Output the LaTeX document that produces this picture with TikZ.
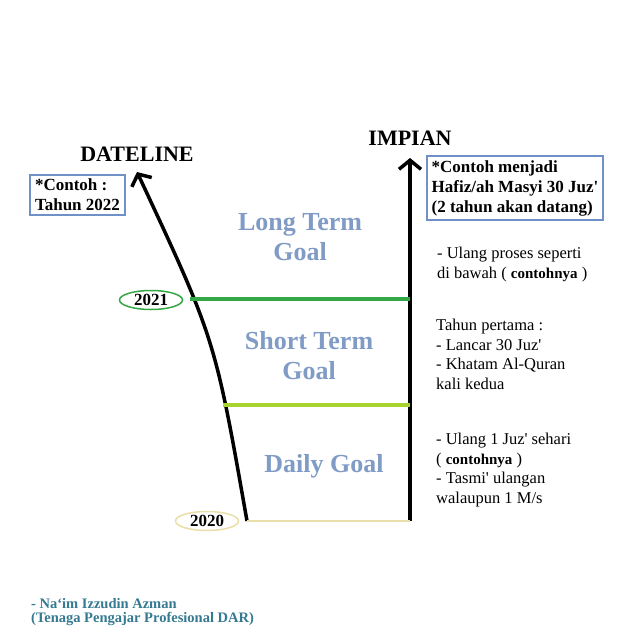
\documentclass[tikz,border=0pt]{standalone}
\usepackage{fontspec}
\setmainfont{Liberation Serif}
\usetikzlibrary{shapes.geometric,arrows.meta}
\definecolor{boxblue}{HTML}{7090C8}
\definecolor{goalblue}{HTML}{7F9BC6}
\definecolor{linegreen}{HTML}{34A846}
\definecolor{lineyellow}{HTML}{A8D22E}
\definecolor{linebeige}{HTML}{EADFA8}
\definecolor{footteal}{HTML}{357A91}
\tikzset{
  heading/.style={font=\bfseries\fontsize{22}{22}\selectfont},
  notebox/.style={draw=boxblue,line width=1.8pt,align=left,inner xsep=5pt,inner ysep=4pt,
    font=\bfseries\fontsize{17}{20}\selectfont},
  goal/.style={text=goalblue,align=center,font=\bfseries\fontsize{26}{30}\selectfont},
  plan/.style={align=left,anchor=north west,inner sep=0pt,font=\fontsize{16.5}{19.5}\selectfont},
  year/.style={ellipse,line width=1.5pt,inner sep=0pt,minimum width=63pt,minimum height=19pt,
    font=\bfseries\fontsize{17}{17}\selectfont},
  axis/.style={line width=3.5pt,-{Straight Barb[length=9pt,width=22pt,line width=3.5pt]}},
}
\newcommand{\ctoh}{{\bfseries\fontsize{15}{15}\selectfont contohnya}}
\newcommand{\apos}{\textquotesingle}
\begin{document}
\begin{tikzpicture}[x=1pt,y=-1pt]
    \useasboundingbox[fill=white] (0,0) rectangle (632,632);
    %% Axes
    \coordinate (dlbase) at (247,521);
    \coordinate (dltip) at (137,172);
    \coordinate (impbase) at (410,521);
    \coordinate (imptip) at (410,158);
    \draw[axis] (dlbase) .. controls (215,339) .. (dltip);
    \draw[axis] (impbase) -- (imptip);
    \node[heading] (dateline) at (137,154) {DATELINE};
    \node[heading] (impian) at (410,138) {IMPIAN};
    %% Levels
    \coordinate (lvlA) at (190,299);
    \coordinate (lvlB) at (223,405);
    \draw[linegreen,line width=3.5pt] (lvlA) -- (lvlA -| impbase);
    \draw[lineyellow,line width=3.5pt] (lvlB) -- (lvlB -| impbase);
    \draw[linebeige,line width=2pt] (dlbase) -- (impbase);
    \node[year,draw=linegreen] (yr21) at (151,300) {2021};
    \node[year,draw=linebeige] (yr20) at (207,521) {2020};
    %% Goals
    \node[goal] (longgoal) at (300,237) {Long Term\\Goal};
    \node[goal] (shortgoal) at (309,356) {Short Term\\Goal};
    \node[goal] (dailygoal) at (324,466) {Daily Goal};
    %% Notes
    \node[notebox] (target) at (77.5,195) {*Contoh :\\Tahun 2022};
    \node[notebox] (dream) at (515,188) {*Contoh menjadi\\Hafiz/ah Masyi 30 Juz\apos\\(2 tahun akan datang)};
    \node[plan] (planlong) at (437,247) {- Ulang proses seperti\\di bawah ( \ctoh{} )};
    \node[plan] (planshort) at (436,319) {Tahun pertama :\\- Lancar 30 Juz\apos\\- Khatam Al-Quran\\kali kedua};
    \node[plan] (plandaily) at (436,433) {- Ulang 1 Juz\apos{} sehari\\( \ctoh{} )\\- Tasmi\apos{} ulangan\\walaupun 1 M/s};
    %% Footer
    \node[align=left,anchor=west,text=footteal,inner sep=0pt,
      font=\bfseries\fontsize{14.5}{14.5}\selectfont] (author) at (31,612)
      {- Na‘im Izzudin Azman\\(Tenaga Pengajar Profesional DAR)};
\end{tikzpicture}
\end{document}
